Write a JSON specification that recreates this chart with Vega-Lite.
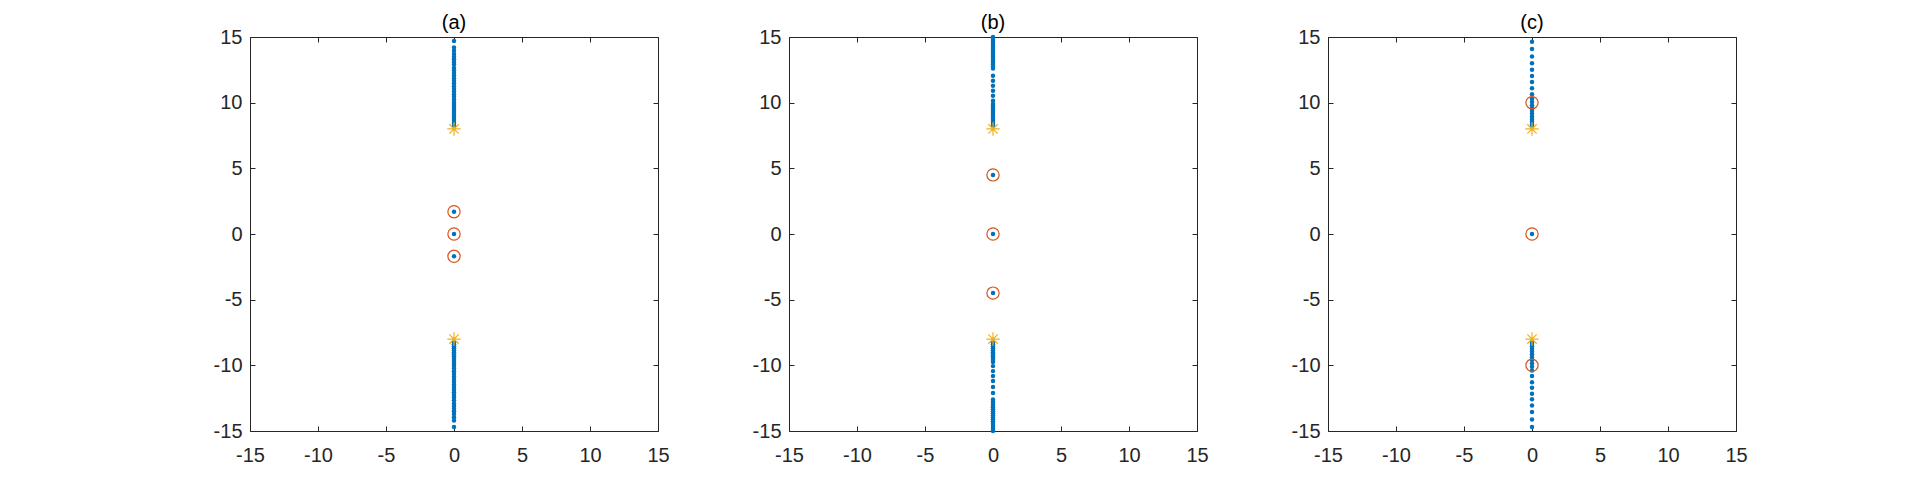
{
  "$schema": "https://vega.github.io/schema/vega-lite/v6.json",
  "background": "white",
  "padding": {"left": 212, "top": 12, "right": 0, "bottom": 0},
  "spacing": 131,
  "bounds": "flush",
  "config": {
    "view": {"stroke": "#262626", "strokeWidth": 1},
    "axis": {
      "domain": false, "grid": false, "tickSize": -5, "tickColor": "#262626", "tickWidth": 1,
      "labelFont": "Liberation Sans", "labelFontSize": 20, "labelColor": "#262626",
      "labelFlush": false, "labelOverlap": false, "labelBound": false,
      "title": null
    },
    "title": {"font": "Liberation Sans", "fontSize": 20, "fontWeight": "normal", "color": "#000000", "baseline": "alphabetic", "offset": -6, "anchor": "middle"}
  },
  "datasets": {
    "a": [
      {"x": 0, "y": 14.7, "kind": "root"}, {"x": 0, "y": 14.2, "kind": "root"}, {"x": 0, "y": 13.95, "kind": "root"}, {"x": 0, "y": 13.7, "kind": "root"}, {"x": 0, "y": 13.5, "kind": "root"}, {"x": 0, "y": 13.3, "kind": "root"}, {"x": 0, "y": 13.1, "kind": "root"}, {"x": 0, "y": 12.9, "kind": "root"}, {"x": 0, "y": 12.65, "kind": "root"}, {"x": 0, "y": 12.45, "kind": "root"}, {"x": 0, "y": 12.25, "kind": "root"}, {"x": 0, "y": 12.05, "kind": "root"}, {"x": 0, "y": 11.85, "kind": "root"}, {"x": 0, "y": 11.65, "kind": "root"}, {"x": 0, "y": 11.45, "kind": "root"}, {"x": 0, "y": 11.25, "kind": "root"}, {"x": 0, "y": 11.05, "kind": "root"}, {"x": 0, "y": 10.85, "kind": "root"}, {"x": 0, "y": 10.65, "kind": "root"}, {"x": 0, "y": 10.45, "kind": "root"}, {"x": 0, "y": 10.25, "kind": "root"}, {"x": 0, "y": 10.05, "kind": "root"}, {"x": 0, "y": 9.9, "kind": "root"}, {"x": 0, "y": 9.75, "kind": "root"}, {"x": 0, "y": 9.6, "kind": "root"}, {"x": 0, "y": 9.45, "kind": "root"}, {"x": 0, "y": 9.3, "kind": "root"}, {"x": 0, "y": 9.15, "kind": "root"}, {"x": 0, "y": 9.0, "kind": "root"}, {"x": 0, "y": 8.85, "kind": "root"}, {"x": 0, "y": 8.7, "kind": "root"}, {"x": 0, "y": 8.55, "kind": "root"}, {"x": 0, "y": 8.4, "kind": "root"}, {"x": 0, "y": 8.25, "kind": "root"},
      {"x": 0, "y": -14.7, "kind": "root"}, {"x": 0, "y": -14.2, "kind": "root"}, {"x": 0, "y": -13.95, "kind": "root"}, {"x": 0, "y": -13.7, "kind": "root"}, {"x": 0, "y": -13.5, "kind": "root"}, {"x": 0, "y": -13.3, "kind": "root"}, {"x": 0, "y": -13.1, "kind": "root"}, {"x": 0, "y": -12.9, "kind": "root"}, {"x": 0, "y": -12.65, "kind": "root"}, {"x": 0, "y": -12.45, "kind": "root"}, {"x": 0, "y": -12.25, "kind": "root"}, {"x": 0, "y": -12.05, "kind": "root"}, {"x": 0, "y": -11.85, "kind": "root"}, {"x": 0, "y": -11.65, "kind": "root"}, {"x": 0, "y": -11.45, "kind": "root"}, {"x": 0, "y": -11.25, "kind": "root"}, {"x": 0, "y": -11.05, "kind": "root"}, {"x": 0, "y": -10.85, "kind": "root"}, {"x": 0, "y": -10.65, "kind": "root"}, {"x": 0, "y": -10.45, "kind": "root"}, {"x": 0, "y": -10.25, "kind": "root"}, {"x": 0, "y": -10.05, "kind": "root"}, {"x": 0, "y": -9.9, "kind": "root"}, {"x": 0, "y": -9.75, "kind": "root"}, {"x": 0, "y": -9.6, "kind": "root"}, {"x": 0, "y": -9.45, "kind": "root"}, {"x": 0, "y": -9.3, "kind": "root"}, {"x": 0, "y": -9.15, "kind": "root"}, {"x": 0, "y": -9.0, "kind": "root"}, {"x": 0, "y": -8.85, "kind": "root"}, {"x": 0, "y": -8.7, "kind": "root"}, {"x": 0, "y": -8.55, "kind": "root"}, {"x": 0, "y": -8.4, "kind": "root"}, {"x": 0, "y": -8.25, "kind": "root"},
      {"x": 0, "y": 1.7, "kind": "root"}, {"x": 0, "y": 0, "kind": "root"}, {"x": 0, "y": -1.7, "kind": "root"},
      {"x": 0, "y": 1.7, "kind": "zero"}, {"x": 0, "y": 0, "kind": "zero"}, {"x": 0, "y": -1.7, "kind": "zero"},
      {"x": 0, "y": 8, "kind": "pole"}, {"x": 0, "y": -8, "kind": "pole"}
    ],
    "b": [
      {"x": 0, "y": 15.0, "kind": "root"}, {"x": 0, "y": 14.85, "kind": "root"}, {"x": 0, "y": 14.7, "kind": "root"}, {"x": 0, "y": 14.55, "kind": "root"}, {"x": 0, "y": 14.4, "kind": "root"}, {"x": 0, "y": 14.25, "kind": "root"}, {"x": 0, "y": 14.1, "kind": "root"}, {"x": 0, "y": 13.95, "kind": "root"}, {"x": 0, "y": 13.8, "kind": "root"}, {"x": 0, "y": 13.65, "kind": "root"}, {"x": 0, "y": 13.5, "kind": "root"}, {"x": 0, "y": 13.35, "kind": "root"}, {"x": 0, "y": 13.2, "kind": "root"}, {"x": 0, "y": 13.05, "kind": "root"}, {"x": 0, "y": 12.9, "kind": "root"}, {"x": 0, "y": 12.75, "kind": "root"}, {"x": 0, "y": 12.6, "kind": "root"},
      {"x": 0, "y": 12.05, "kind": "root"}, {"x": 0, "y": 11.67, "kind": "root"}, {"x": 0, "y": 11.29, "kind": "root"}, {"x": 0, "y": 10.9, "kind": "root"}, {"x": 0, "y": 10.52, "kind": "root"}, {"x": 0, "y": 10.15, "kind": "root"},
      {"x": 0, "y": 9.9, "kind": "root"}, {"x": 0, "y": 9.75, "kind": "root"}, {"x": 0, "y": 9.6, "kind": "root"}, {"x": 0, "y": 9.45, "kind": "root"}, {"x": 0, "y": 9.3, "kind": "root"}, {"x": 0, "y": 9.15, "kind": "root"}, {"x": 0, "y": 9.0, "kind": "root"}, {"x": 0, "y": 8.85, "kind": "root"}, {"x": 0, "y": 8.7, "kind": "root"}, {"x": 0, "y": 8.55, "kind": "root"}, {"x": 0, "y": 8.4, "kind": "root"}, {"x": 0, "y": 8.25, "kind": "root"},
      {"x": 0, "y": -15.0, "kind": "root"}, {"x": 0, "y": -14.85, "kind": "root"}, {"x": 0, "y": -14.7, "kind": "root"}, {"x": 0, "y": -14.55, "kind": "root"}, {"x": 0, "y": -14.4, "kind": "root"}, {"x": 0, "y": -14.25, "kind": "root"}, {"x": 0, "y": -14.1, "kind": "root"}, {"x": 0, "y": -13.95, "kind": "root"}, {"x": 0, "y": -13.8, "kind": "root"}, {"x": 0, "y": -13.65, "kind": "root"}, {"x": 0, "y": -13.5, "kind": "root"}, {"x": 0, "y": -13.35, "kind": "root"}, {"x": 0, "y": -13.2, "kind": "root"}, {"x": 0, "y": -13.05, "kind": "root"}, {"x": 0, "y": -12.9, "kind": "root"}, {"x": 0, "y": -12.75, "kind": "root"}, {"x": 0, "y": -12.6, "kind": "root"},
      {"x": 0, "y": -12.1, "kind": "root"}, {"x": 0, "y": -11.65, "kind": "root"}, {"x": 0, "y": -11.2, "kind": "root"}, {"x": 0, "y": -10.82, "kind": "root"}, {"x": 0, "y": -10.44, "kind": "root"}, {"x": 0, "y": -10.06, "kind": "root"},
      {"x": 0, "y": -9.75, "kind": "root"}, {"x": 0, "y": -9.6, "kind": "root"}, {"x": 0, "y": -9.45, "kind": "root"}, {"x": 0, "y": -9.3, "kind": "root"}, {"x": 0, "y": -9.15, "kind": "root"}, {"x": 0, "y": -9.0, "kind": "root"}, {"x": 0, "y": -8.85, "kind": "root"}, {"x": 0, "y": -8.7, "kind": "root"}, {"x": 0, "y": -8.55, "kind": "root"}, {"x": 0, "y": -8.4, "kind": "root"}, {"x": 0, "y": -8.25, "kind": "root"},
      {"x": 0, "y": 4.5, "kind": "root"}, {"x": 0, "y": 0, "kind": "root"}, {"x": 0, "y": -4.5, "kind": "root"},
      {"x": 0, "y": 4.5, "kind": "zero"}, {"x": 0, "y": 0, "kind": "zero"}, {"x": 0, "y": -4.5, "kind": "zero"},
      {"x": 0, "y": 8, "kind": "pole"}, {"x": 0, "y": -8, "kind": "pole"}
    ],
    "c": [
      {"x": 0, "y": 14.64, "kind": "root"}, {"x": 0, "y": 14.08, "kind": "root"}, {"x": 0, "y": 13.52, "kind": "root"}, {"x": 0, "y": 13.0, "kind": "root"}, {"x": 0, "y": 12.5, "kind": "root"}, {"x": 0, "y": 12.03, "kind": "root"}, {"x": 0, "y": 11.57, "kind": "root"}, {"x": 0, "y": 11.1, "kind": "root"}, {"x": 0, "y": 10.64, "kind": "root"}, {"x": 0, "y": 10.3, "kind": "root"}, {"x": 0, "y": 10.05, "kind": "root"}, {"x": 0, "y": 9.8, "kind": "root"}, {"x": 0, "y": 9.58, "kind": "root"}, {"x": 0, "y": 9.36, "kind": "root"}, {"x": 0, "y": 9.15, "kind": "root"}, {"x": 0, "y": 8.95, "kind": "root"}, {"x": 0, "y": 8.75, "kind": "root"}, {"x": 0, "y": 8.55, "kind": "root"}, {"x": 0, "y": 8.38, "kind": "root"}, {"x": 0, "y": 8.22, "kind": "root"},
      {"x": 0, "y": -14.7, "kind": "root"}, {"x": 0, "y": -14.12, "kind": "root"}, {"x": 0, "y": -13.56, "kind": "root"}, {"x": 0, "y": -13.05, "kind": "root"}, {"x": 0, "y": -12.59, "kind": "root"}, {"x": 0, "y": -12.16, "kind": "root"}, {"x": 0, "y": -11.7, "kind": "root"}, {"x": 0, "y": -11.28, "kind": "root"}, {"x": 0, "y": -10.82, "kind": "root"}, {"x": 0, "y": -10.4, "kind": "root"}, {"x": 0, "y": -10.1, "kind": "root"}, {"x": 0, "y": -9.85, "kind": "root"}, {"x": 0, "y": -9.6, "kind": "root"}, {"x": 0, "y": -9.38, "kind": "root"}, {"x": 0, "y": -9.16, "kind": "root"}, {"x": 0, "y": -8.95, "kind": "root"}, {"x": 0, "y": -8.75, "kind": "root"}, {"x": 0, "y": -8.55, "kind": "root"}, {"x": 0, "y": -8.38, "kind": "root"}, {"x": 0, "y": -8.22, "kind": "root"},
      {"x": 0, "y": 0, "kind": "root"},
      {"x": 0, "y": 10, "kind": "zero"}, {"x": 0, "y": 0, "kind": "zero"}, {"x": 0, "y": -10, "kind": "zero"},
      {"x": 0, "y": 8, "kind": "pole"}, {"x": 0, "y": -8, "kind": "pole"}
    ]
  },
  "hconcat": [
    {
      "width": 408, "height": 394,
      "title": "(a)",
      "data": {"name": "a"},
      "resolve": {"axis": {"x": "independent", "y": "independent"}},
      "layer": [
        {
          "transform": [{"filter": "datum.kind === 'root'"}],
          "mark": {"type": "point", "shape": "circle", "filled": true, "size": 20, "color": "#0072BD", "opacity": 1},
          "encoding": {
            "x": {"field": "x", "type": "quantitative", "scale": {"domain": [-15, 15], "nice": false, "zero": false}, "axis": {"orient": "bottom", "values": [-15, -10, -5, 0, 5, 10, 15], "labelPadding": 19.5, "labelExpr": "'' + datum.value"}},
            "y": {"field": "y", "type": "quantitative", "scale": {"domain": [-15, 15], "nice": false, "zero": false}, "axis": {"orient": "left", "values": [-15, -10, -5, 0, 5, 10, 15], "labelPadding": 13, "labelExpr": "'' + datum.value"}}
          }
        },
        {
          "transform": [{"filter": "datum.kind === 'zero'"}],
          "mark": {"type": "point", "shape": "circle", "filled": false, "size": 150, "stroke": "#D95319", "strokeWidth": 1.2, "opacity": 1},
          "encoding": {
            "x": {"field": "x", "type": "quantitative", "axis": {"orient": "top", "values": [-15, -10, -5, 0, 5, 10, 15], "labels": false}},
            "y": {"field": "y", "type": "quantitative", "axis": {"orient": "right", "values": [-15, -10, -5, 0, 5, 10, 15], "labels": false}}
          }
        },
        {
          "transform": [{"filter": "datum.kind === 'pole'"}],
          "mark": {"type": "point", "shape": "M-1,0L1,0M0,-1L0,1M-0.7,-0.7L0.7,0.7M-0.7,0.7L0.7,-0.7", "filled": false, "size": 180, "stroke": "#EDB120", "strokeWidth": 1.2, "opacity": 1},
          "encoding": {
            "x": {"field": "x", "type": "quantitative", "axis": null},
            "y": {"field": "y", "type": "quantitative", "axis": null}
          }
        }
      ]
    },
    {
      "width": 408, "height": 394,
      "title": "(b)",
      "data": {"name": "b"},
      "resolve": {"axis": {"x": "independent", "y": "independent"}},
      "layer": [
        {
          "transform": [{"filter": "datum.kind === 'root'"}],
          "mark": {"type": "point", "shape": "circle", "filled": true, "size": 20, "color": "#0072BD", "opacity": 1},
          "encoding": {
            "x": {"field": "x", "type": "quantitative", "scale": {"domain": [-15, 15], "nice": false, "zero": false}, "axis": {"orient": "bottom", "values": [-15, -10, -5, 0, 5, 10, 15], "labelPadding": 19.5, "labelExpr": "'' + datum.value"}},
            "y": {"field": "y", "type": "quantitative", "scale": {"domain": [-15, 15], "nice": false, "zero": false}, "axis": {"orient": "left", "values": [-15, -10, -5, 0, 5, 10, 15], "labelPadding": 13, "labelExpr": "'' + datum.value"}}
          }
        },
        {
          "transform": [{"filter": "datum.kind === 'zero'"}],
          "mark": {"type": "point", "shape": "circle", "filled": false, "size": 150, "stroke": "#D95319", "strokeWidth": 1.2, "opacity": 1},
          "encoding": {
            "x": {"field": "x", "type": "quantitative", "axis": {"orient": "top", "values": [-15, -10, -5, 0, 5, 10, 15], "labels": false}},
            "y": {"field": "y", "type": "quantitative", "axis": {"orient": "right", "values": [-15, -10, -5, 0, 5, 10, 15], "labels": false}}
          }
        },
        {
          "transform": [{"filter": "datum.kind === 'pole'"}],
          "mark": {"type": "point", "shape": "M-1,0L1,0M0,-1L0,1M-0.7,-0.7L0.7,0.7M-0.7,0.7L0.7,-0.7", "filled": false, "size": 180, "stroke": "#EDB120", "strokeWidth": 1.2, "opacity": 1},
          "encoding": {
            "x": {"field": "x", "type": "quantitative", "axis": null},
            "y": {"field": "y", "type": "quantitative", "axis": null}
          }
        }
      ]
    },
    {
      "width": 408, "height": 394,
      "title": "(c)",
      "data": {"name": "c"},
      "resolve": {"axis": {"x": "independent", "y": "independent"}},
      "layer": [
        {
          "transform": [{"filter": "datum.kind === 'root'"}],
          "mark": {"type": "point", "shape": "circle", "filled": true, "size": 20, "color": "#0072BD", "opacity": 1},
          "encoding": {
            "x": {"field": "x", "type": "quantitative", "scale": {"domain": [-15, 15], "nice": false, "zero": false}, "axis": {"orient": "bottom", "values": [-15, -10, -5, 0, 5, 10, 15], "labelPadding": 19.5, "labelExpr": "'' + datum.value"}},
            "y": {"field": "y", "type": "quantitative", "scale": {"domain": [-15, 15], "nice": false, "zero": false}, "axis": {"orient": "left", "values": [-15, -10, -5, 0, 5, 10, 15], "labelPadding": 13, "labelExpr": "'' + datum.value"}}
          }
        },
        {
          "transform": [{"filter": "datum.kind === 'zero'"}],
          "mark": {"type": "point", "shape": "circle", "filled": false, "size": 150, "stroke": "#D95319", "strokeWidth": 1.2, "opacity": 1},
          "encoding": {
            "x": {"field": "x", "type": "quantitative", "axis": {"orient": "top", "values": [-15, -10, -5, 0, 5, 10, 15], "labels": false}},
            "y": {"field": "y", "type": "quantitative", "axis": {"orient": "right", "values": [-15, -10, -5, 0, 5, 10, 15], "labels": false}}
          }
        },
        {
          "transform": [{"filter": "datum.kind === 'pole'"}],
          "mark": {"type": "point", "shape": "M-1,0L1,0M0,-1L0,1M-0.7,-0.7L0.7,0.7M-0.7,0.7L0.7,-0.7", "filled": false, "size": 180, "stroke": "#EDB120", "strokeWidth": 1.2, "opacity": 1},
          "encoding": {
            "x": {"field": "x", "type": "quantitative", "axis": null},
            "y": {"field": "y", "type": "quantitative", "axis": null}
          }
        }
      ]
    }
  ]
}
